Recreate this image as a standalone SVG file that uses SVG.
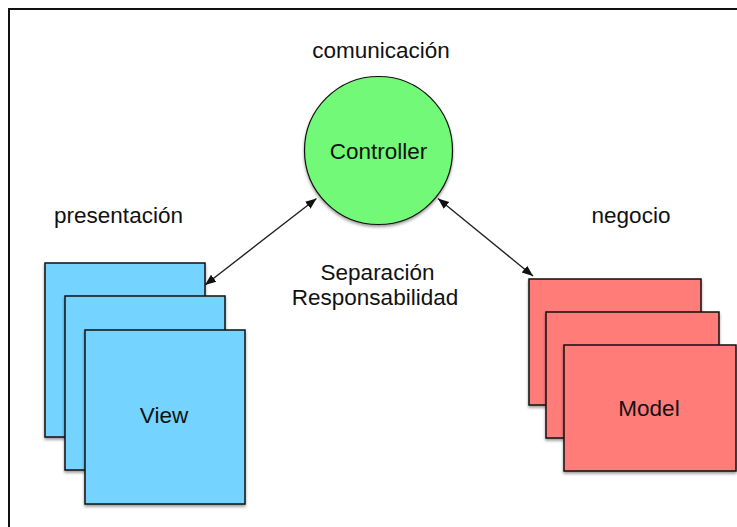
<svg xmlns="http://www.w3.org/2000/svg" width="737" height="527" viewBox="0 0 737 527">
<defs>
<filter id="sh" x="-10%" y="-10%" width="130%" height="130%">
<feGaussianBlur in="SourceAlpha" stdDeviation="1.5"/>
<feOffset dx="0" dy="2" result="b"/>
<feComponentTransfer><feFuncA type="linear" slope="0.4"/></feComponentTransfer>
<feMerge><feMergeNode/><feMergeNode in="SourceGraphic"/></feMerge>
</filter>
<marker id="ah" viewBox="0 0 10 10" refX="10" refY="5" markerWidth="11" markerHeight="11" markerUnits="userSpaceOnUse" orient="auto-start-reverse">
<path d="M0,1 L10,5 L0,9 Z" fill="#111"/>
</marker>
<style>
text{font-family:"Liberation Sans",Arial,sans-serif;font-size:22.5px;fill:#111;text-anchor:middle}
.v{fill:#75D4FF;stroke:#111;stroke-width:1.5}
.m{fill:#FF7B78;stroke:#111;stroke-width:1.5}
.c{fill:#72F977;stroke:#111;stroke-width:1.2}
.e{stroke:#222;stroke-width:1.4;fill:none}
</style>
</defs>
<rect width="737" height="527" fill="#fff"/>
<path d="M9,527 V9 H737" fill="none" stroke="#111" stroke-width="2"/>
<g id="controller">
<circle class="c" cx="378.5" cy="150.5" r="74" filter="url(#sh)"/>
<text x="378.5" y="159">Controller</text>
</g>
<g id="view">
<rect class="v" x="45" y="263" width="160" height="174" filter="url(#sh)"/>
<rect class="v" x="65" y="296" width="160" height="174" filter="url(#sh)"/>
<rect class="v" x="85" y="330" width="160" height="174" filter="url(#sh)"/>
<text x="164" y="423">View</text>
</g>
<g id="model">
<rect class="m" x="529" y="279" width="172" height="126" filter="url(#sh)"/>
<rect class="m" x="546" y="312" width="173" height="126" filter="url(#sh)"/>
<rect class="m" x="564" y="345" width="172" height="126" filter="url(#sh)"/>
<text x="649" y="416">Model</text>
</g>
<g id="labels">
<text x="381" y="58">comunicación</text>
<text x="118.5" y="223">presentación</text>
<text x="631" y="223">negocio</text>
<text x="377.5" y="280">Separación</text>
<text x="375" y="305">Responsabilidad</text>
</g>
<g id="connectors">
<line class="e" x1="316.5" y1="198.5" x2="205" y2="285" marker-start="url(#ah)" marker-end="url(#ah)"/>
<line class="e" x1="438" y1="198.5" x2="533" y2="276" marker-start="url(#ah)" marker-end="url(#ah)"/>
</g>
</svg>
